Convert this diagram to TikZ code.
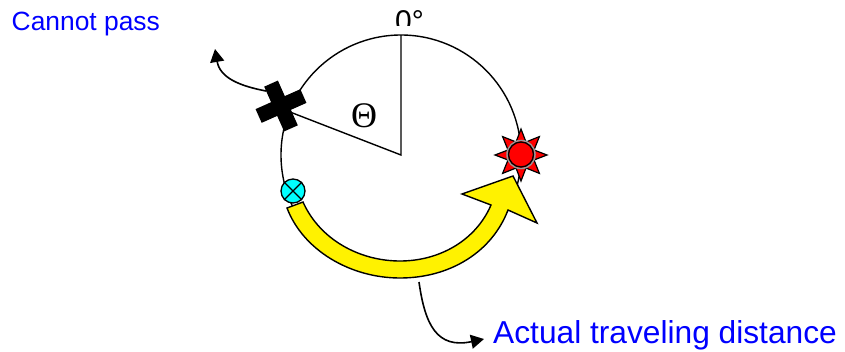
\documentclass[tikz,border=0pt]{standalone}
\usepackage{fontspec}
\setmainfont{Liberation Sans}
\newfontfamily\serifgreek{Liberation Serif}
\definecolor{txtblue}{RGB}{0,0,255}
\definecolor{mycyan}{RGB}{0,255,255}
\usetikzlibrary{arrows.meta}
\tikzset{
  wire/.style={draw=black,line width=1.4pt},
  pointer/.style={draw=black,line width=1.6pt,-{Triangle[length=13pt,width=14pt]}},
  bluetext/.style={text=txtblue,inner sep=0pt,anchor=base west},
  crossarm/.style={fill=black,minimum width=49pt,minimum height=15pt,inner sep=0pt},
}
\begin{document}
\begin{tikzpicture}[x=1pt,y=-1pt]
\useasboundingbox (0,0) rectangle (845,351);
\coordinate (c) at (401,155);
\coordinate (top) at (401,35);
% circle
\draw[wire] (c) circle[radius=120];
% radii
\draw[wire] (top) -- (c) -- (290,112);
% 0 deg label, clipped as printed
\begin{scope}
\clip (380,0) rectangle (435,25.5);
\node[inner sep=0pt,font=\fontsize{30}{32}\selectfont,anchor=base west] (zero) at (395,31.5) {0°};
\end{scope}
\node[inner sep=0pt,font=\serifgreek\fontsize{36}{38}\selectfont] (theta) at (364,115.5) {Θ};
% cross
\node[crossarm,rotate=24] (x1) at (281,106) {};
\node[crossarm,rotate=-66] (x2) at (281,106) {};
% pointer from cross
\coordinate (ptip) at (215,49);
\coordinate (pstart) at (266,91);
\draw[pointer] (pstart) .. controls (240,86) and (220,78) .. (ptip);
% start marker
\node[circle,draw=black,line width=1.3pt,fill=mycyan,minimum size=24pt,inner sep=0pt] (start) at (293,191) {};
\draw[line width=1.2pt] (start.45) -- (start.225) (start.135) -- (start.315);
% star
\fill[black!55] (521,154.5) circle[radius=14.5];
\draw[line width=1.2pt,fill=red,miter limit=10] (521,129)
  -- (526,142) -- (539.4,136.6) -- (534,150) -- (547,155) -- (534,160) -- (539.4,173.4)
  -- (526,168) -- (521,181) -- (516,168) -- (502.6,173.4) -- (508,160) -- (495,155)
  -- (508,150) -- (502.6,136.6) -- (516,142) -- cycle;
\node[circle,draw=white!60!black,line width=1.5pt,minimum size=28pt,inner sep=0pt] (sring) at (521,154.5) {};
\node[circle,draw=black,line width=1.3pt,fill=red,minimum size=25pt,inner sep=0pt] (sun) at (521,154.5) {};
% yellow arrow
\draw[line width=1.4pt,fill=yellow,line join=miter] (287,208)
  .. controls (303,250) and (350,278) .. (400,278)
  .. controls (450,278) and (492,252) .. (508,210)
  -- (537,223) -- (513,176) -- (462,194) -- (491,205)
  .. controls (476,240) and (440,261) .. (400,261)
  .. controls (360,261) and (320,240) .. (303,202) -- cycle;
% text
\node[bluetext,font=\fontsize{26.4}{28}\selectfont] (cp) at (11.5,30) {Cannot pass};
\node[bluetext,font=\fontsize{31.7}{34}\selectfont] (atd) at (493,343.5) {Actual traveling distance};
% lower pointer
\coordinate (lo) at (419,282);
\coordinate (lotip) at (484,339);
\draw[pointer] (lo) .. controls (425,325) and (437,349) .. (lotip);
\end{tikzpicture}
\end{document}
